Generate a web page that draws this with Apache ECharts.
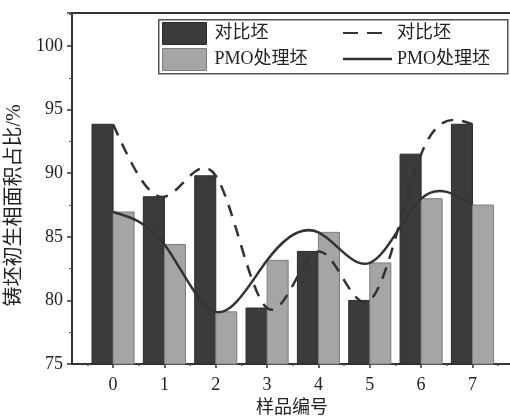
<!DOCTYPE html>
<html>
<head>
<meta charset="utf-8">
<script src="https://cdn.jsdelivr.net/npm/echarts@6/dist/echarts.min.js"></script>
<style>html,body{margin:0;padding:0;background:#fff}#c{width:510px;height:416px}</style>
</head>
<body>
<div id="c"></div>
<script>
const categories = [0, 1, 2, 3, 4, 5, 6, 7];
const contrastValues = [93.85, 88.15, 89.8, 79.4, 83.85, 80.0, 91.5, 93.85];
const pmoValues = [86.95, 84.4, 79.1, 83.15, 85.35, 82.95, 88.0, 87.5];
const yTickValues = [75, 80, 85, 90, 95, 100];
const xTickLabels = ['0', '1', '2', '3', '4', '5', '6', '7'];
const seriesNames = ['对比坯', 'PMO处理坯'];
const xName = '样品编号';
const yName = '铸坯初生相面积占比/%';

const FONT = '"Liberation Serif", "Noto Sans CJK SC", serif';
const LINE_SUFFIX = '(曲线)';
const darkFill = '#3b3b3b', darkStroke = '#2a2a2a';
const lightFill = '#a5a5a5', lightStroke = '#7d7d7d';
const lineColor = '#333333';

function barRender(offset, fill, stroke) {
  return function (params, api) {
    const x = api.value(0), v = api.value(1);
    const p1 = api.coord([x + offset, v]);
    const p2 = api.coord([x + offset + 0.41, yTickValues[0]]);
    return {
      type: 'rect',
      shape: { x: p1[0], y: p1[1], width: p2[0] - p1[0], height: p2[1] - p1[1] },
      style: { fill: fill, stroke: stroke, lineWidth: 1 }
    };
  };
}

// natural cubic spline through the pixel positions of the data points, emitted as bezier segments
function splinePath(pts) {
  const n = pts.length - 1;
  const h = [], d = [];
  for (let i = 0; i < n; i++) { h.push(pts[i + 1][0] - pts[i][0]); d.push((pts[i + 1][1] - pts[i][1]) / h[i]); }
  const M = new Array(n + 1).fill(0);
  if (n > 1) {
    const a = [], b = [], c = [], r = [];
    for (let i = 1; i < n; i++) {
      a.push(h[i - 1]); b.push(2 * (h[i - 1] + h[i])); c.push(h[i]); r.push(6 * (d[i] - d[i - 1]));
    }
    const m = b.length;
    for (let i = 1; i < m; i++) { const w = a[i] / b[i - 1]; b[i] -= w * c[i - 1]; r[i] -= w * r[i - 1]; }
    const sol = new Array(m);
    sol[m - 1] = r[m - 1] / b[m - 1];
    for (let i = m - 2; i >= 0; i--) sol[i] = (r[i] - c[i] * sol[i + 1]) / b[i];
    for (let i = 0; i < m; i++) M[i + 1] = sol[i];
  }
  let s = 'M' + pts[0][0] + ' ' + pts[0][1];
  for (let i = 0; i < n; i++) {
    const s0 = d[i] - h[i] * (2 * M[i] + M[i + 1]) / 6;
    const s1 = d[i] + h[i] * (M[i] + 2 * M[i + 1]) / 6;
    const c1x = pts[i][0] + h[i] / 3, c1y = pts[i][1] + s0 * h[i] / 3;
    const c2x = pts[i + 1][0] - h[i] / 3, c2y = pts[i + 1][1] - s1 * h[i] / 3;
    s += ' C' + c1x + ' ' + c1y + ' ' + c2x + ' ' + c2y + ' ' + pts[i + 1][0] + ' ' + pts[i + 1][1];
  }
  return s;
}

function curveRender(values, dash) {
  return function (params, api) {
    if (params.dataIndex !== 0) return null;
    const pts = values.map(function (v, i) { return api.coord([categories[i], v]); });
    return {
      type: 'path',
      shape: { pathData: splinePath(pts) },
      style: { fill: null, stroke: lineColor, lineWidth: 2.5, lineDash: dash }
    };
  };
}

const chart = echarts.init(document.getElementById('c'), null, { renderer: 'canvas' });
const halfTicks = [];
for (let i = 0; i < categories.length; i++) halfTicks.push(categories[i] - 0.5);
halfTicks.push(categories[categories.length - 1] + 0.5);

const legendText = { fontFamily: FONT, fontSize: 18, color: '#222', lineHeight: 22 };

chart.setOption({
  animation: false,
  backgroundColor: '#fff',
  grid: { left: 72, top: 13, width: 440, height: 351, outerBoundsMode: 'none', containLabel: false,
    show: true, borderColor: '#333', borderWidth: 2, backgroundColor: 'transparent' },
  xAxis: [{
    type: 'value', min: -0.8, max: 7.77,
    name: xName, nameLocation: 'middle', nameGap: 35,
    nameTextStyle: { fontFamily: FONT, fontSize: 18, color: '#222' },
    axisLine: { show: true, onZero: false, lineStyle: { color: '#333', width: 2 } },
    axisTick: { show: true, length: 4, lineStyle: { color: '#333', width: 1.5 }, customValues: categories },
    axisLabel: { fontFamily: FONT, fontSize: 18, color: '#222', margin: 12, customValues: categories,
      formatter: function (v) { return xTickLabels[categories.indexOf(v)]; } },
    splitLine: { show: false }
  }, {
    type: 'value', min: -0.8, max: 7.77, position: 'bottom',
    axisLine: { show: false },
    axisTick: { show: true, length: 2, lineStyle: { color: '#555', width: 1.5 }, customValues: halfTicks },
    axisLabel: { show: false },
    splitLine: { show: false }
  }],
  yAxis: {
    type: 'value', min: 75, max: 102.6, interval: 5,
    name: yName, nameLocation: 'middle', nameGap: 45, nameRotate: 90,
    nameTextStyle: { fontFamily: FONT, fontSize: 20, color: '#222', padding: [0, 34, 0, 0] },
    axisLine: { show: true, onZero: false, lineStyle: { color: '#333', width: 2 } },
    axisTick: { show: true, length: 5, lineStyle: { color: '#333', width: 1.5 } },
    minorTick: { show: true, splitNumber: 2, length: 3, lineStyle: { color: '#555', width: 1 } },
    axisLabel: { fontFamily: FONT, fontSize: 18, color: '#222', margin: 9,
      formatter: function (v) { return yTickValues.indexOf(v) >= 0 ? String(v) : ''; } },
    splitLine: { show: false }
  },
  legend: [{
    orient: 'vertical', left: 162, top: 22, itemWidth: 44, itemHeight: 22, itemGap: 3, padding: 0,
    textStyle: Object.assign({ padding: [0, 0, 0, 3] }, legendText),
    data: [
      { name: seriesNames[0], icon: 'rect', itemStyle: { color: darkFill, borderColor: darkStroke, borderWidth: 1 } },
      { name: seriesNames[1], icon: 'rect', itemStyle: { color: lightFill, borderColor: lightStroke, borderWidth: 1 } }
    ],
    selectedMode: false
  }, {
    orient: 'vertical', left: 343, top: 22, itemWidth: 39, itemHeight: 2.5, padding: 0,
    textStyle: Object.assign({ padding: [0, 0, 0, 10] }, legendText),
    formatter: function (n) { return n.replace(LINE_SUFFIX, ''); },
    data: [
      { name: seriesNames[0] + LINE_SUFFIX, icon: 'path://M0,0h15v2h-15z M24,0h15v2h-15z', itemStyle: { color: lineColor } }
    ],
    selectedMode: false
  }, {
    orient: 'vertical', left: 343, top: 48, itemWidth: 49, itemHeight: 2.5, padding: 0,
    textStyle: Object.assign({ padding: [0, 0, 0, 0] }, legendText),
    formatter: function (n) { return n.replace(LINE_SUFFIX, ''); },
    data: [
      { name: seriesNames[1] + LINE_SUFFIX, icon: 'rect', itemStyle: { color: lineColor } }
    ],
    selectedMode: false
  }],
  graphic: [{
    type: 'rect', left: 158, top: 19, shape: { width: 349, height: 54 },
    style: { fill: 'transparent', stroke: '#555', lineWidth: 1.5 }, z: 0
  }],
  series: [{
    name: seriesNames[0], type: 'custom', z: 2,
    itemStyle: { color: darkFill },
    renderItem: barRender(-0.41, darkFill, darkStroke),
    data: categories.map(function (c, i) { return [c, contrastValues[i]]; })
  }, {
    name: seriesNames[1], type: 'custom', z: 2,
    itemStyle: { color: lightFill },
    renderItem: barRender(0, lightFill, lightStroke),
    data: categories.map(function (c, i) { return [c, pmoValues[i]]; })
  }, {
    name: seriesNames[0] + LINE_SUFFIX, type: 'custom', z: 3,
    itemStyle: { color: lineColor },
    renderItem: curveRender(contrastValues, [12, 9]),
    data: categories.map(function (c, i) { return [c, contrastValues[i]]; })
  }, {
    name: seriesNames[1] + LINE_SUFFIX, type: 'custom', z: 3,
    itemStyle: { color: lineColor },
    renderItem: curveRender(pmoValues, null),
    data: categories.map(function (c, i) { return [c, pmoValues[i]]; })
  }]
});
</script>
</body>
</html>
